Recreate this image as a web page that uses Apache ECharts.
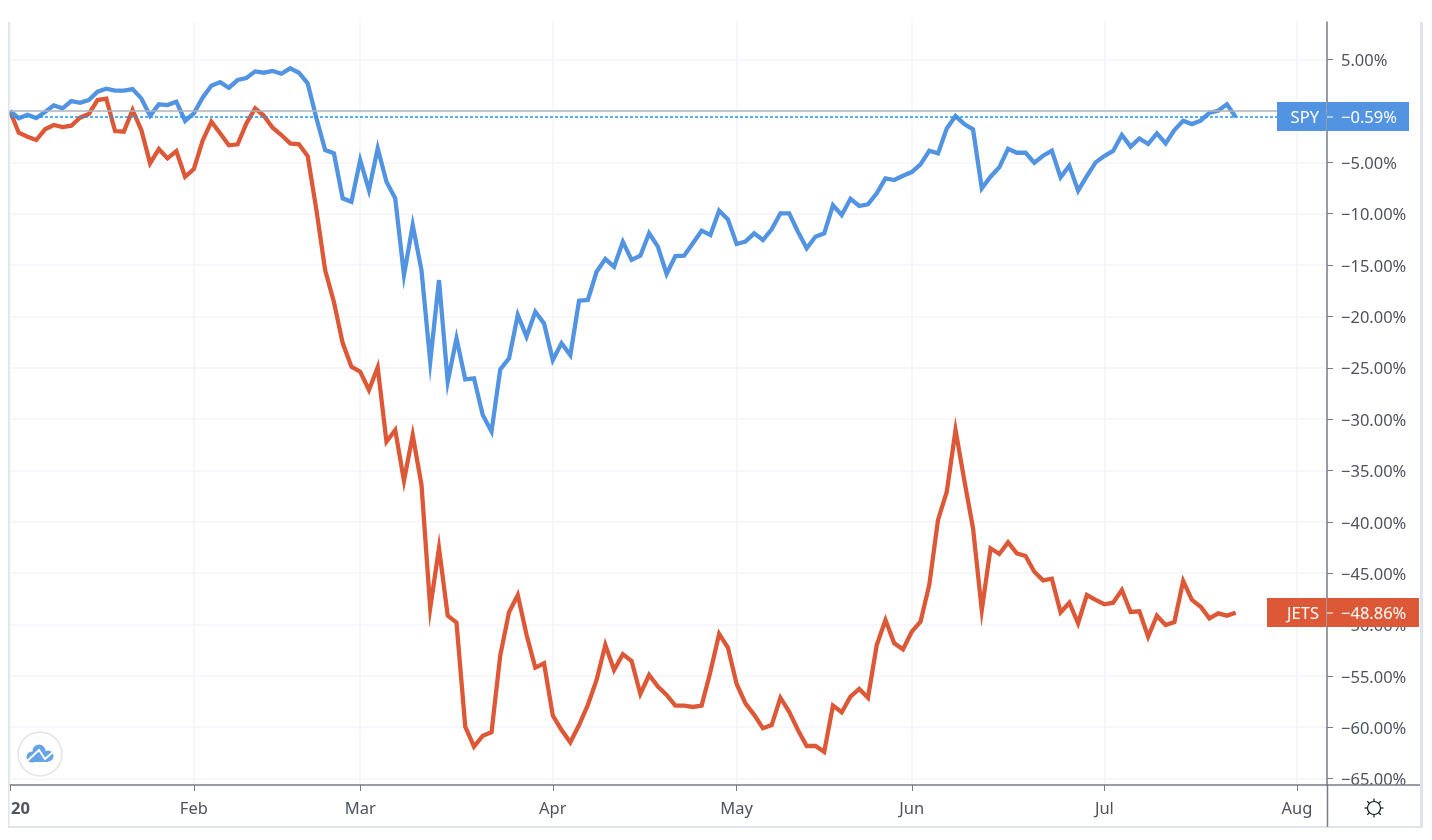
<!DOCTYPE html>
<html>
<head>
<meta charset="utf-8">
<title>SPY vs JETS</title>
<style>
    html, body { margin: 0; padding: 0; background: #fff; }
    #chart { width: 1432px; height: 840px; }
</style>
<script src="https://cdn.jsdelivr.net/npm/echarts@6/dist/echarts.min.js"></script>
</head>
<body>
<div id="chart"></div>
<script>
// percent change per trading day
var spyValues = [0, -0.7, -0.36, -0.68, -0.1, 0.55, 0.26, 0.97, 0.8, 1.07,
    1.88, 2.17, 1.98, 1.98, 2.14, 1.23, -0.45, 0.65, 0.58, 0.91,
    -0.97, -0.23, 1.3, 2.47, 2.82, 2.27, 3.02, 3.21, 3.86, 3.73,
    3.9, 3.63, 4.16, 3.73, 2.7, -0.7, -3.8, -4.12, -8.5, -8.83,
    -4.77, -7.7, -3.63, -6.88, -8.5, -15.97, -11.1, -15.5, -24.4, -16.46,
    -26.36, -22.14, -26.13, -26.03, -29.6, -31.2, -25.15, -24.08, -19.86, -21.97,
    -19.54, -20.68, -24.25, -22.62, -23.76, -18.47, -18.4, -15.65, -14.41, -15.16,
    -12.73, -14.5, -14.09, -11.9, -13.2, -15.87, -14.12, -14.09, -12.88, -11.65,
    -12.07, -9.7, -10.55, -12.95, -12.72, -11.91, -12.56, -11.52, -9.96, -9.96,
    -11.75, -13.37, -12.24, -11.91, -9.18, -10.13, -8.54, -9.25, -9.09, -8.02,
    -6.56, -6.72, -6.3, -5.94, -5.19, -3.87, -4.12, -1.69, -0.49, -1.27,
    -1.78, -7.53, -6.4, -5.48, -3.67, -4.06, -4.06, -5.03, -4.35, -3.87,
    -6.46, -5.32, -7.76, -6.33, -5.0, -4.38, -3.89, -2.34, -3.47, -2.66,
    -3.21, -2.17, -3.15, -1.85, -0.94, -1.27, -0.94, -0.17, 0.03, 0.65,
    -0.59];
var jetsValues = [0, -2.11, -2.5, -2.82, -1.78, -1.36, -1.56, -1.43, -0.65, -0.29,
    1.07, 1.2, -1.95, -2.01, 0.1, -1.85, -5.09, -3.7, -4.61, -3.9,
    -6.4, -5.65, -2.89, -1.04, -2.17, -3.34, -3.24, -1.2, 0.26, -0.46,
    -1.63, -2.34, -3.15, -3.24, -4.38, -9.64, -15.5, -18.6, -22.6, -24.9,
    -25.38, -27.17, -24.96, -32.2, -31.06, -36.0, -31.55, -36.4, -48.4, -42.55,
    -49.14, -49.82, -59.95, -61.9, -60.83, -60.5, -53.0, -48.8, -47.13, -51.0,
    -54.2, -53.78, -58.87, -60.27, -61.47, -59.79, -57.84, -55.4, -52.0, -54.43,
    -52.9, -53.55, -56.77, -54.92, -56.05, -56.86, -57.9, -57.9, -58.03, -57.9,
    -54.6, -50.92, -52.25, -55.79, -57.68, -58.8, -60.1, -59.8, -57.13, -58.5,
    -60.27, -61.83, -61.83, -62.4, -57.9, -58.55, -57.03, -56.28, -57.13, -52.0,
    -49.56, -51.83, -52.42, -50.7, -49.73, -46.15, -39.82, -37.07, -31.06, -35.93,
    -40.64, -48.6, -42.58, -43.13, -42.0, -43.07, -43.33, -44.86, -45.7, -45.54,
    -48.81, -47.88, -49.88, -47.13, -47.61, -48.03, -47.88, -46.64, -48.78, -48.72,
    -51.19, -49.14, -50.05, -49.76, -45.76, -47.61, -48.27, -49.4, -48.91, -49.14,
    -48.86];

// month ticks are trading day numbers
var monthTicks = [0, 21, 40, 62, 83, 103, 125, 147];
var monthLabels = ["20", "Feb", "Mar", "Apr", "May", "Jun", "Jul", "Aug"];
var priceTicks = [5, 0, -5, -10, -15, -20, -25, -30, -35, -40, -45, -50, -55, -60, -65];

var spyColor = "#5294e2";
var jetsColor = "#dd5836";
var textColor = "#50535e";
var axisColor = "#787b86";
var gridColor = "#f2f4f9";
var borderColor = "#e0e3eb";
var fontName = "'Noto Sans', sans-serif";

function fmtPercent(v) {
    return (v < 0 ? "\u2212" : "") + Math.abs(v).toFixed(2) + "%";
}

function toPairs(values) {
    return values.map(function (v, i) {
        return [i, v];
    });
}

var chart = echarts.init(document.getElementById("chart"));

chart.setOption({
    animation: false,
    backgroundColor: "#fff",
    grid: {left: 10, right: 105, top: 22, bottom: 55},
    xAxis: {
        type: "value",
        min: 0,
        max: 150.43,
        axisLine: {onZero: false, lineStyle: {color: axisColor, width: 1.5}},
        axisTick: {show: true, length: 6, customValues: monthTicks, lineStyle: {color: axisColor}},
        splitLine: {show: true, lineStyle: {color: gridColor, width: 1.5}},
        axisLabel: {
            customValues: monthTicks,
            margin: 16,
            fontFamily: fontName,
            fontSize: 16.5,
            color: textColor,
            formatter: function (v) {
                var label = monthLabels[monthTicks.indexOf(v)];
                return v === 0 ? "{first|" + label + "}" : label;
            },
            rich: {
                first: {
                    padding: [0, 0, 0, 21],
                    fontFamily: fontName,
                    fontSize: 16.5,
                    fontWeight: "bold",
                    color: textColor
                }
            }
        }
    },
    yAxis: {
        type: "value",
        position: "right",
        min: -65.63,
        max: 8.67,
        axisLine: {show: true, onZero: false, lineStyle: {color: axisColor, width: 1.5}},
        axisTick: {show: true, length: 6, customValues: priceTicks, lineStyle: {color: axisColor}},
        splitLine: {show: true, lineStyle: {color: gridColor, width: 1.5}},
        axisLabel: {
            customValues: priceTicks,
            margin: 14,
            formatter: function (v) {
                return "{price|" + fmtPercent(v) + "}";
            },
            rich: {
                price: {
                    padding: [4, 0, 0, 0],
                    fontFamily: fontName,
                    fontSize: 16.5,
                    color: textColor
                }
            }
        }
    },
    series: [
        {
            name: "JETS",
            type: "line",
            data: toPairs(jetsValues),
            showSymbol: false,
            lineStyle: {color: jetsColor, width: 4.3, join: "miter"},
            z: 3
        },
        {
            name: "SPY",
            type: "line",
            data: toPairs(spyValues),
            showSymbol: false,
            lineStyle: {color: spyColor, width: 4.3, join: "miter"},
            z: 4,
            markLine: {
                silent: true,
                symbol: "none",
                animation: false,
                label: {show: false},
                data: [
                    {yAxis: 0, lineStyle: {color: "#b2b5be", width: 1.5, type: "solid"}},
                    {yAxis: spyValues[spyValues.length - 1], lineStyle: {color: "#2196f3", width: 1.5, type: [3, 2]}}
                ]
            }
        }
    ]
});

// price tags, frame and the two small icons
function buildTag(name, value, color, tagLeft, tagRight) {
    var y = Math.round(chart.convertToPixel({yAxisIndex: 0}, value));
    var list = [
        {type: "rect", z: 101, shape: {x: tagLeft, y: y - 15, width: 1326 - tagLeft, height: 29}, style: {fill: color}},
        {type: "rect", z: 101, shape: {x: 1327, y: y - 15, width: tagRight - 1327, height: 29}, style: {fill: color}},
        {type: "line", z: 102, shape: {x1: 1327, y1: y, x2: 1333, y2: y}, style: {stroke: "#fff", lineWidth: 1}},
        {
            type: "text", z: 102, x: 1319, y: y + 1,
            style: {text: name, fill: "#fff", font: "16.5px " + fontName, align: "right", verticalAlign: "middle"}
        },
        {
            type: "text", z: 102, x: 1341, y: y + 1,
            style: {text: fmtPercent(value), fill: "#fff", font: "16.5px " + fontName, align: "left", verticalAlign: "middle"}
        }
    ];
    return list;
}

function buildFrame() {
    var list = [
        // hides what runs past the bottom of the price column
        {type: "rect", z: 100, shape: {x: 1328, y: 786, width: 92, height: 41}, style: {fill: "#fff"}},
        {type: "rect", z: 100, shape: {x: 8, y: 22, width: 1.5, height: 805}, style: {fill: borderColor}},
        {type: "rect", z: 100, shape: {x: 8, y: 826, width: 1415, height: 2}, style: {fill: borderColor}},
        {type: "rect", z: 100, shape: {x: 1420, y: 22, width: 3, height: 806}, style: {fill: borderColor}},
        {type: "line", z: 101, shape: {x1: 1327.5, y1: 785, x2: 1327.5, y2: 827}, style: {stroke: axisColor, lineWidth: 1.5}},
        {type: "line", z: 101, shape: {x1: 1327, y1: 785, x2: 1420, y2: 785}, style: {stroke: axisColor, lineWidth: 1.5}}
    ];
    return list;
}

function buildLogo() {
    var cloud = "#65a5e6";
    return [
        {type: "circle", z: 100, shape: {cx: 40, cy: 754, r: 22}, style: {fill: "#fff", stroke: "#e3e4e8", lineWidth: 1.5}},
        {type: "circle", z: 101, shape: {cx: 39, cy: 751, r: 6.5}, style: {fill: cloud}},
        {type: "circle", z: 101, shape: {cx: 48, cy: 756, r: 5.5}, style: {fill: cloud}},
        {type: "circle", z: 101, shape: {cx: 32, cy: 757, r: 5.5}, style: {fill: cloud}},
        {type: "rect", z: 101, shape: {x: 32, y: 755, width: 16, height: 7}, style: {fill: cloud}},
        {
            type: "polyline", z: 102,
            shape: {points: [[25, 763], [39, 750], [45, 759], [53, 752]]},
            style: {stroke: "#fff", lineWidth: 2, fill: "none"}
        }
    ];
}

function buildGear() {
    var cx = 1374, cy = 808;
    var list = [{type: "circle", z: 102, shape: {cx: cx, cy: cy, r: 6.5}, style: {fill: "#fff", stroke: "#131722", lineWidth: 1.2}}];
    for (var i = 0; i < 8; i++) {
        var a = i * Math.PI / 4 + Math.PI / 2;
        list.push({
            type: "line", z: 102,
            shape: {
                x1: cx + 6.5 * Math.cos(a), y1: cy + 6.5 * Math.sin(a),
                x2: cx + 9.5 * Math.cos(a), y2: cy + 9.5 * Math.sin(a)
            },
            style: {stroke: "#131722", lineWidth: 1.2}
        });
    }
    return list;
}

chart.setOption({
    graphic: {
        elements: buildFrame()
            .concat(buildLogo())
            .concat(buildGear())
            .concat(buildTag("SPY", spyValues[spyValues.length - 1], spyColor, 1277, 1409))
            .concat(buildTag("JETS", jetsValues[jetsValues.length - 1], jetsColor, 1267, 1419))
    }
});
</script>
</body>
</html>
